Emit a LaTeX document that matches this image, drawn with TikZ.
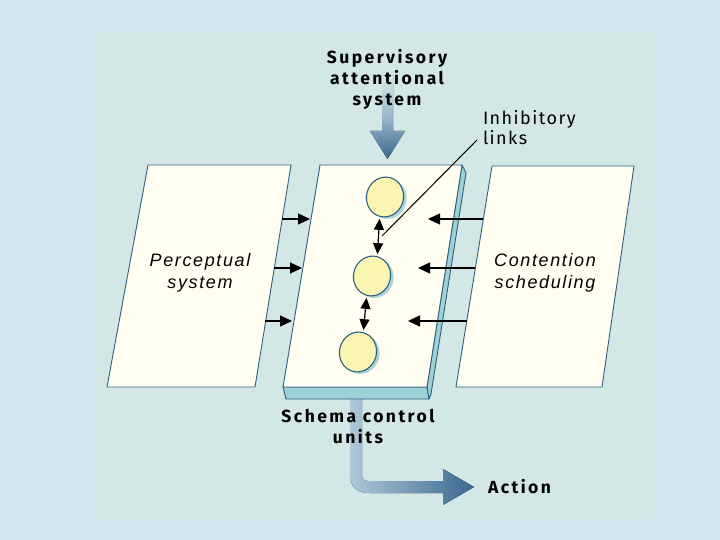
\documentclass[tikz,border=0pt]{standalone}
\usepackage{fontspec}
\usetikzlibrary{arrows.meta,shapes.geometric}
\newfontfamily\labelfont{Fira Sans}[LetterSpace=14.0]
\newfontfamily\notefont{Fira Sans}[LetterSpace=8.0]
\newfontfamily\boxfont{Liberation Sans}[LetterSpace=9.0]

\newlength{\du}
\setlength{\du}{1pt}

\definecolor{bgcolor}{rgb}{0.827451, 0.905882, 0.933333}
\definecolor{panecolor}{rgb}{0.827451, 0.909804, 0.901961}
\definecolor{sheetcolor}{rgb}{1.000000, 0.996078, 0.941176}
\definecolor{edgecolor}{rgb}{0.184314, 0.372549, 0.498039}
\definecolor{slabcolor}{rgb}{0.619608, 0.819608, 0.839216}
\definecolor{unitcolor}{rgb}{0.980392, 0.960784, 0.701961}
\definecolor{shadecolor}{rgb}{0.658824, 0.839216, 0.858824}
\definecolor{flowdark}{rgb}{0.223529, 0.407843, 0.560784}
\definecolor{flowlight}{rgb}{0.690196, 0.784314, 0.850980}

\tikzset{
  sheet/.style={fill=sheetcolor, draw=edgecolor, line width=0.9\du, line join=miter},
  slabside/.style={fill=slabcolor, draw=edgecolor, line width=0.9\du, line join=round},
  unit/.style={ellipse, fill=unitcolor, draw=edgecolor, line width=1.1\du,
    minimum width=37\du, minimum height=40\du, inner sep=0pt, rotate=-15},
  unitshadow/.style={unit, fill=shadecolor, draw=none},
  feed/.style={line width=1.2\du, -{Triangle[length=12pt,width=11pt]}},
  link/.style={line width=1.2\du, {Triangle[length=11pt,width=10pt]}-{Triangle[length=11pt,width=10pt]},
    shorten <=2\du, shorten >=2\du},
  headline/.style={font=\labelfont\bfseries\fontsize{17.5}{21}\selectfont, align=center, inner sep=0pt, outer sep=0pt},
  notetext/.style={font=\notefont\fontsize{18}{20}\selectfont, align=left, inner sep=0pt, outer sep=0pt},
  boxtext/.style={font=\boxfont\itshape\fontsize{18}{22}\selectfont, align=center, inner sep=0pt, outer sep=0pt}
}

\begin{document}
\begin{tikzpicture}
\pgftransformxscale{1.000000}
\pgftransformyscale{-1.000000}
% background and inner pane
\fill[bgcolor] (0\du,0\du) rectangle (720\du,540\du);
\useasboundingbox (0\du,0\du) rectangle (720\du,540\du);
\fill[panecolor] (93\du,32\du) rectangle (653\du,519\du);

% supervisory input arrow
\fill[top color=panecolor, bottom color=flowdark, middle color=flowlight!80!flowdark]
  (382\du,76\du)--(393\du,76\du)--(393\du,131\du)--(405\du,131\du)--(387.5\du,159\du)--(370\du,131\du)--(382\du,131\du)--cycle;

% action output arrow
\fill[left color=flowlight, right color=flowdark]
  (350\du,399\du)--(350\du,473\du) .. controls (350\du,487\du) and (356\du,493\du) .. (370\du,493\du)
  --(443\du,493\du)--(443\du,505\du)--(474\du,487\du)--(443\du,469\du)--(443\du,481\du)
  --(368\du,481\du) .. controls (364\du,481\du) and (362\du,479\du) .. (362\du,475\du)--(362\du,399\du)--cycle;

% perceptual system and contention scheduling sheets
\draw[sheet] (148\du,165\du)--(291\du,165\du)--(255\du,387\du)--(107\du,387\du)--cycle;
\draw[sheet] (492\du,166\du)--(634\du,166\du)--(602\du,387\du)--(456\du,387\du)--cycle;

% schema control slab
\draw[slabside] (283\du,387\du)--(427\du,387\du)--(429\du,399\du)--(286\du,399\du)--cycle;
\draw[slabside] (427\du,387\du)--(462\du,165\du)--(466\du,173\du)--(431\du,394\du)--(429\du,399\du)--cycle;
\draw[sheet] (320\du,165\du)--(462\du,165\du)--(427\du,387\du)--(283\du,387\du)--cycle;

% schema units
\node[unitshadow] at (388\du,199\du) {};
\node[unitshadow] at (375\du,278\du) {};
\node[unitshadow] at (361\du,354\du) {};
\node[unit] (u1) at (385\du,197\du) {};
\node[unit] (u2) at (372\du,276\du) {};
\node[unit] (u3) at (358\du,352\du) {};
\draw[link] (u1.south) -- (u2.north);
\draw[link] (u2.south) -- (u3.north);

% inputs from both sides
\foreach \y/\a/\b [count=\i] in {219/282/310, 268/274/302, 321/265/292}
{
\coordinate (pin\i) at (\a\du,\y\du);
\coordinate (pout\i) at (\b\du,\y\du);
\draw[feed] (pin\i) -- (pout\i);
}
\foreach \y/\a/\b [count=\i] in {219/483/428, 268/475/418, 321/467/408}
{
\coordinate (cin\i) at (\a\du,\y\du);
\coordinate (cout\i) at (\b\du,\y\du);
\draw[feed] (cin\i) -- (cout\i);
}

% inhibitory links pointer
\coordinate (inhfoot) at (382\du,236\du);
\coordinate (inhhead) at (477\du,140\du);
\draw[line width=1\du] (inhfoot) -- (inhhead);

% labels (base = last line)
\node[headline, anchor=base] (sas) at (387\du,106\du) {Supervisory\\attentional\\system};
\node[notetext, anchor=base west] (inh) at (483\du,145\du) {Inhibitory\\links};
\node[boxtext, anchor=base] (per) at (200\du,288\du) {Perceptual\\system};
\node[boxtext, anchor=base] (con) at (545\du,288\du) {Contention\\scheduling};
\node[headline, anchor=base] (scu) at (358\du,443\du) {Schema control\\units};
\node[headline, anchor=base west] (act) at (488\du,493\du) {Action};
\end{tikzpicture}
\end{document}
